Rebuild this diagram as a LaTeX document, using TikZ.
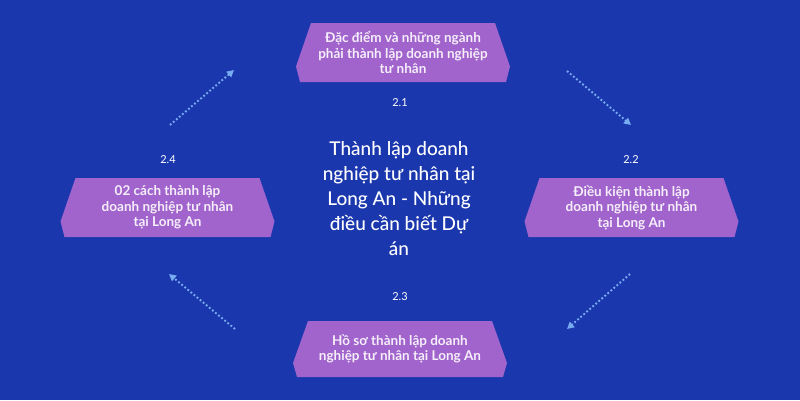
\documentclass[tikz,border=0pt]{standalone}
\usepackage{fontspec}
\setmainfont{Lato}
\newfontfamily\titlefont{Lato Medium}
\usetikzlibrary{arrows.meta,positioning}
\definecolor{bgblue}{RGB}{27,55,174}
\definecolor{boxpurple}{RGB}{160,100,204}
\definecolor{boxtext}{RGB}{246,238,250}
\definecolor{arrowblue}{RGB}{120,172,240}
\begin{document}
\begin{tikzpicture}[x=1pt,y=-1pt,
	hexbox/.style={minimum width=214pt,minimum height=59pt,inner sep=0pt,align=center,text=boxtext,
		font=\bfseries\fontsize{13.5}{15.5}\selectfont,
		path picture={\fill[boxpurple] ([xshift=15pt]path picture bounding box.north west)
			-- ([xshift=-15pt]path picture bounding box.north east)
			-- ([yshift=-14pt]path picture bounding box.east)
			-- ([xshift=-4pt]path picture bounding box.south east)
			-- ([xshift=4pt]path picture bounding box.south west)
			-- ([yshift=-14pt]path picture bounding box.west) -- cycle;}},
	numlabel/.style={text=white,font=\fontsize{11}{13}\selectfont},
	dotarrow/.style={arrowblue,line width=1.9pt,dash pattern=on 1.8pt off 2.2pt,-{Triangle[length=7pt,width=7pt]}}]
	\useasboundingbox (0,0) rectangle (800,400);
	\fill[bgblue] (0,0) rectangle (800,400);
	
	% central title
	\node[text=white,align=center,font=\titlefont\fontsize{19}{25}\selectfont] (title) at (399,199)
		{Thành lập doanh\\nghiệp tư nhân tại\\Long An - Những\\điều cần biết Dự\\án};
	
	% the four boxes
	\node[hexbox] (b21) at (403,52.5) {Đặc điểm và những ngành\\phải thành lập doanh nghiệp\\tư nhân};
	\node[hexbox] (b22) at (631.5,207.5) {Điều kiện thành lập\\doanh nghiệp tư nhân\\tại Long An};
	\node[hexbox,minimum height=56pt] (b23) at (400,349) {Hồ sơ thành lập doanh\\nghiệp tư nhân tại Long An};
	\node[hexbox] (b24) at (167.5,207.5) {02 cách thành lập\\doanh nghiệp tư nhân\\tại Long An};
	
	\node[numlabel] (n21) at (400,103) {2.1};
	\node[numlabel] (n22) at (631,160) {2.2};
	\node[numlabel] (n23) at (400,297) {2.3};
	\node[numlabel] (n24) at (168,160) {2.4};
	
	% dotted arrows
	\coordinate (a1s) at (170,125);
	\coordinate (a1e) at (234,70);
	\coordinate (a2s) at (567,71);
	\coordinate (a2e) at (631,125);
	\coordinate (a3s) at (630,274);
	\coordinate (a3e) at (567,329);
	\coordinate (a4s) at (235,329);
	\coordinate (a4e) at (169,274);
	\draw[dotarrow] (a1s) -- (a1e);
	\draw[dotarrow] (a2s) -- (a2e);
	\draw[dotarrow] (a3s) -- (a3e);
	\draw[dotarrow] (a4s) -- (a4e);
\end{tikzpicture}
\end{document}
